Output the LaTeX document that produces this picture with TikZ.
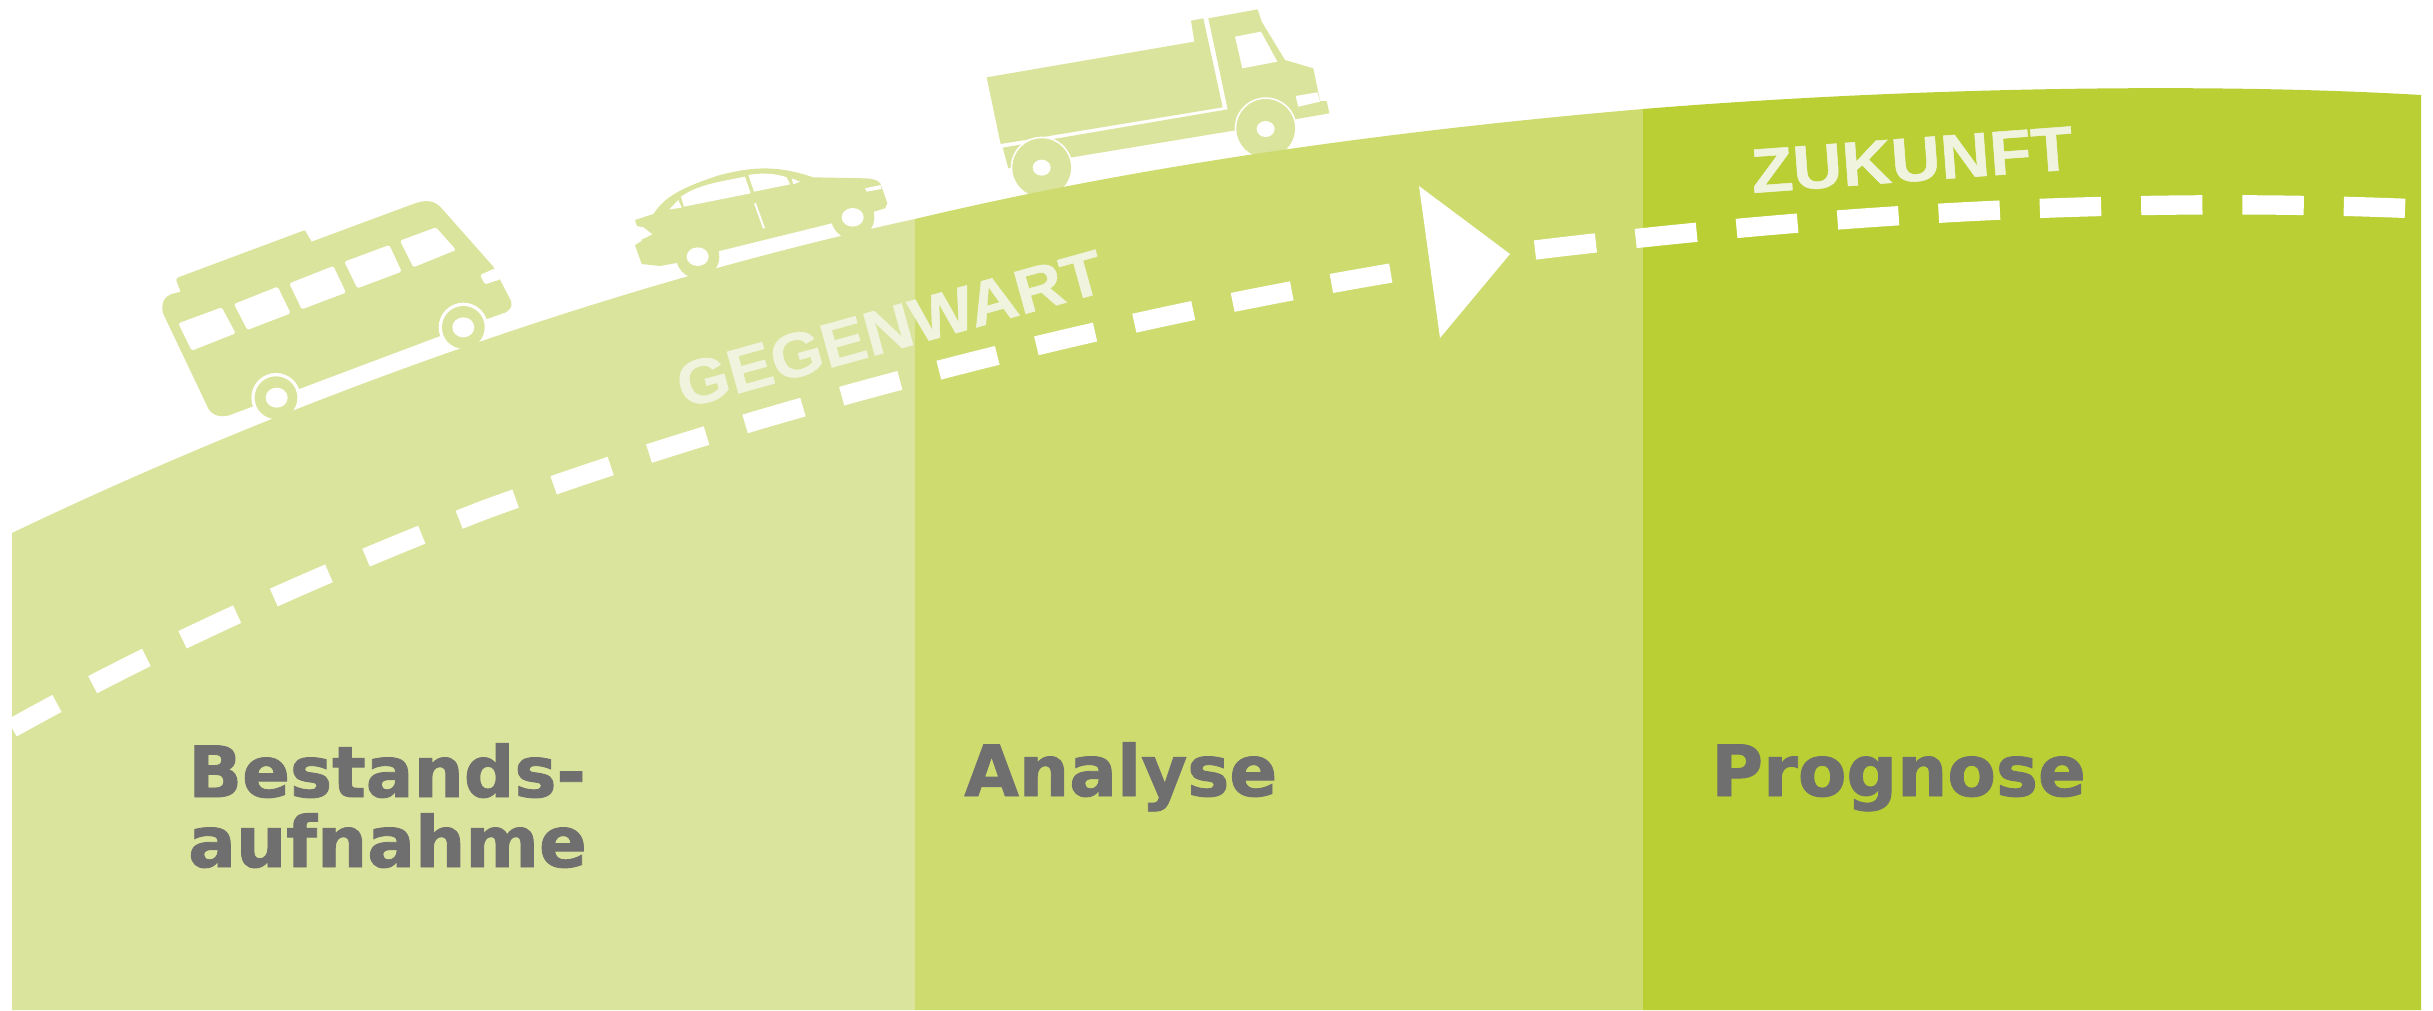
\documentclass[tikz,border=0pt]{standalone}
\usepackage{graphicx}
\usepackage{fontspec}
\setmainfont{Liberation Sans}
\newfontfamily\stepfont[BoldFeatures={FakeBold=1.2}]{DejaVu Sans}
\newfontfamily\tagfont[BoldFeatures={FakeBold=0.8}]{Liberation Sans}
\definecolor{lightgreen}{HTML}{DBE49C}
\definecolor{midgreen}{HTML}{CDDB6F}
\definecolor{darkgreen}{HTML}{B9CF34}
\definecolor{tagcolor}{HTML}{F0F4DF}
\definecolor{stepcolor}{HTML}{706F6F}
\newcommand{\hillpath}{(12,533) .. controls (300,395) and (620,283) .. (915,219) .. controls (1150,163) and (1400,130) .. (1643,109) .. controls (1900,88) and (2200,82) .. (2421,95) -- (2421,1010) -- (12,1010) -- cycle}
\tikzset{
  body/.style={fill=lightgreen,draw=none},
  cutout/.style={fill=white,draw=none,rounded corners=1.2pt},
  roadline/.style={white,line width=14.5pt},
  steplabel/.style={anchor=base west,inner sep=0pt,align=left,text=stepcolor,font=\stepfont\bfseries\fontsize{53}{52.5}\selectfont},
  taglabel/.style={inner sep=0pt,text=tagcolor,font=\tagfont\bfseries\fontsize{47}{47}\selectfont},
}
\begin{document}
\begin{tikzpicture}[x=0.75pt,y=0.75pt,yscale=-1,xscale=1]
\useasboundingbox (0,0) rectangle (2433,1010);

%Shape: Bus
\begin{scope}[shift={(130,170)},x=0.25pt,y=0.25pt]
\fill [body] (152,365) -- (140,335) .. controls (138,328) .. (145,322) -- (512,185) .. controls (525,180) .. (530,190) -- (545,215) -- (855,100) .. controls (890,88) and (915,92) .. (935,115) -- (1090,290) -- (1143,393) .. controls (1148,410) and (1140,420) .. (1125,428) -- (1000,472) -- (438,683) -- (300,735) .. controls (270,745) and (240,735) .. (230,705) -- (100,432) .. controls (90,400) and (105,378) .. (125,372) -- cycle ;
\fill [white] (1000,472) circle (74) (438,683) circle (74);
\fill [body] (1000,472) circle (64) (438,683) circle (64);
\fill [white] (1000,472) ellipse (33 and 30) (440,683) ellipse (33 and 30);
\fill [cutout] (145,460) -- (275,412) -- (317,490) -- (185,542) -- cycle ;
\fill [cutout] (312,402) -- (443,350) -- (482,430) -- (352,480) -- cycle ;
\fill [cutout] (478,340) -- (610,288) -- (648,368) -- (515,418) -- cycle ;
\fill [cutout] (643,275) -- (778,225) -- (815,305) -- (682,355) -- cycle ;
\fill [cutout] (810,212) -- (918,172) -- (978,240) -- (850,292) -- cycle ;
\fill [cutout] (1050,315) -- (1095,295) -- (1112,328) -- (1065,343) -- cycle ;
\end{scope}

%Shape: Car
\begin{scope}[shift={(610,140)},x=0.25pt,y=0.25pt]
\fill [body] (75,240) -- (130,222) .. controls (160,180) and (190,150) .. (330,105) .. controls (430,80) and (500,75) .. (610,112) -- (770,115) .. controls (800,118) and (812,125) .. (815,140) -- (832,190) -- (825,205) -- (792,215) -- (665,250) -- (328,333) -- (205,368) -- (150,378) -- (95,372) -- (75,315) -- (95,303) -- cycle ;
\fill [body] (728,232) circle (65) (263,350) circle (65);
\fill [white] (728,232) ellipse (33 and 28) (263,350) ellipse (33 and 28);
\fill [white] (80,258) -- (100,262) -- (127,283) -- (92,300) -- cycle ;
\fill [white] (178,208) -- (205,180) -- (215,203) -- cycle ;
\fill [white] (222,200) -- (213,170) .. controls (260,135) and (330,125) .. (405,110) -- (422,160) -- cycle ;
\fill [white] (432,155) -- (415,105) .. controls (450,98) and (500,100) .. (530,112) -- (540,133) -- cycle ;
\fill [white] (545,115) -- (570,125) -- (550,133) -- cycle ;
\fill [white] (765,145) -- (812,135) -- (815,147) -- (770,155) -- cycle ;
\draw [white,line width=1.5pt] (435,190) -- (462,265) ;
\end{scope}

%Shape: Truck
\begin{scope}[shift={(960,0)},x=0.25pt,y=0.25pt]
\fill [body] (80,232) -- (703,125) -- (693,62) -- (730,55) -- (788,322) -- (122,432) -- cycle ;
\fill [body] (745,55) -- (893,28) -- (905,65) -- (975,180) -- (1060,205) -- (1080,303) -- (1100,303) -- (1108,340) -- (1010,357) -- (820,392) -- (330,473) -- (145,505) -- (128,443) -- (803,328) -- cycle ;
\fill [white] (917,385) circle (93) (245,503) circle (93);
\fill [body] (917,385) circle (88) (245,503) circle (88);
\fill [white] (917,387) ellipse (27 and 24) (245,503) ellipse (27 and 24);
\fill [white] (825,110) -- (903,95) -- (952,185) -- (847,205) -- cycle ;
\fill [white] (1007,288) -- (1072,277) -- (1080,305) -- (1015,320) -- cycle ;
\end{scope}

%Shape: Hill
\foreach \xa/\xb/\stepcol in {12/915/lightgreen,915/1643/midgreen,1643/2421/darkgreen}{
  \begin{scope}
  \clip (\xa,0) rectangle (\xb,1010);
  \fill [\stepcol] \hillpath ;
  \end{scope}
}

%Straight Lines: Road
\draw [roadline,dash pattern={on 45.2pt off 30.2pt},dash phase=6.75pt] (12,728) .. controls (170,640) and (330,570) .. (484,510) .. controls (670,442) and (870,385) .. (1065,339) .. controls (1180,312) and (1290,290) .. (1397,272) ;
\draw [roadline,dash pattern={on 46pt off 30pt}] (1535,250) .. controls (1800,218) and (2100,195) .. (2421,209) ;
%Shape: Arrow
\fill [white] (1419,186) -- (1510,254) -- (1440,338) -- cycle ;

% Text Node
\node (bestand) [steplabel] at (188,867) {Bestands-\\aufnahme};
% Text Node
\node (analyse) [steplabel] at (964,796) {Analyse};
% Text Node
\node (prognose) [steplabel] at (1711,796) {Prognose};
% Text Node
\node (gegenwart) [taglabel,rotate=15.5] at (890,329) {\scalebox{1.07}[1]{GEGENWART}};
% Text Node
\node (zukunft) [taglabel,rotate=4.2] at (1912,160) {\scalebox{1.09}[1]{ZUKUNFT}};

\end{tikzpicture}
\end{document}
